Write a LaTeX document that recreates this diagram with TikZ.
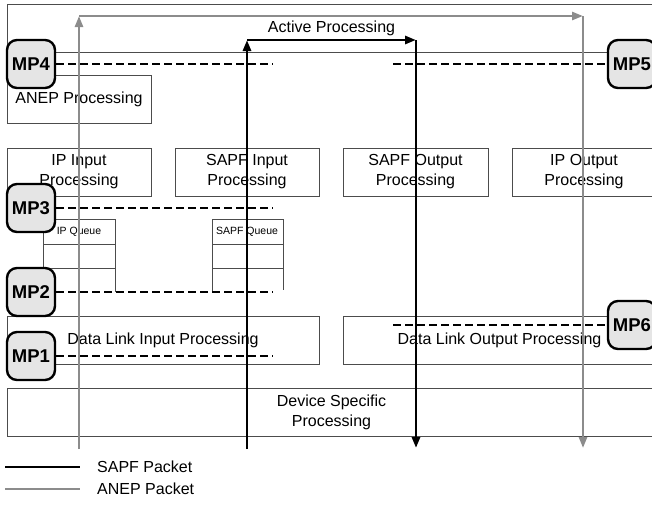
\documentclass[tikz,border=0pt]{standalone}
\usepackage{fontspec}
\setmainfont{Liberation Sans}
\usetikzlibrary{arrows.meta}

\begin{document}
\begin{tikzpicture}[x=1pt,y=-1pt,
    layer/.style={draw=black!70,line width=1pt,minimum height=48pt,inner sep=0pt,
        align=center,font=\fontsize{16}{20}\selectfont},
    queue/.style={draw=black!70,line width=1pt},
    qlabel/.style={inner sep=0pt,font=\fontsize{10.5}{12}\selectfont},
    mp/.style={draw=black,line width=2.4pt,rounded corners=10pt,fill=black!10,
        minimum width=48pt,minimum height=48pt,inner sep=0pt,
        font=\fontsize{18.5}{20}\selectfont\bfseries},
    probe/.style={line width=2.6pt,dash pattern=on 8pt off 4pt},
    sapf/.style={line width=2.8pt,black,-{Triangle[length=11pt,width=8pt]}},
    anep/.style={line width=2.5pt,black!45,-{Triangle[length=11pt,width=8pt]}},
    keyline/.style={line width=2.8pt},
]
\useasboundingbox (0,0) rectangle (652,504);
\clip (0,0) rectangle (652,504);

% layers
\node[layer,minimum width=649pt] (active) at (331.5,28) {Active Processing};
\node[layer,minimum width=144pt] (anepproc) at (79,99.5) {ANEP Processing};

\node[layer,minimum width=144pt] (ipin) at (79,172) {IP Input\\Processing};
\node[layer,minimum width=144pt] (sapfin) at (247,172) {SAPF Input\\Processing};
\node[layer,minimum width=145pt] (sapfout) at (415.5,172) {SAPF Output\\Processing};
\node[layer,minimum width=144pt] (ipout) at (584,172) {IP Output\\Processing};

\node[layer,minimum width=312pt] (dlin) at (163,340) {Data Link Input Processing};
\node[layer,minimum width=313pt] (dlout) at (499.5,340) {Data Link Output Processing};

\node[layer,minimum width=649pt] (device) at (331.5,412) {Device Specific\\Processing};

% queues
\draw[queue] (43,292) -- (43,219) -- (115,219) -- (115,292);
\draw[queue] (43,244) -- (115,244) (43,268) -- (115,268);
\node[qlabel] (ipq) at (79,232) {IP Queue};

\draw[queue] (212,292) -- (212,219) -- (283,219) -- (283,290);
\draw[queue] (212,244) -- (283,244) (212,268) -- (283,268);
\node[qlabel] (sapfq) at (247,232) {SAPF Queue};

% packet paths
\coordinate (anepa) at (79,449);
\coordinate (anepb) at (79,16);
\coordinate (anepc) at (583,16);
\coordinate (anepd) at (583,448);
\draw[anep] (anepa) -- (anepb);
\draw[anep] (anepb) -- (anepc);
\draw[anep] (anepc) -- (anepd);

\coordinate (sapfa) at (247,449);
\coordinate (sapfb) at (247,40);
\coordinate (sapfc) at (416,40);
\coordinate (sapfd) at (416,448);
\draw[sapf] (sapfa) -- (sapfb);
\draw[sapf] (sapfb) -- (sapfc);
\draw[sapf] (sapfc) -- (sapfd);

% measurement points
\node[mp] (mp4) at (31,64) {MP4};
\node[mp] (mp5) at (632,64) {MP5};
\node[mp] (mp3) at (31,208) {MP3};
\node[mp] (mp2) at (31,292) {MP2};
\node[mp] (mp1) at (31,356) {MP1};
\node[mp] (mp6) at (632,325) {MP6};

\coordinate (p4) at (273,64);
\coordinate (p5) at (393,64);
\coordinate (p3) at (273,208);
\coordinate (p2) at (273,292);
\coordinate (p1) at (273,356);
\coordinate (p6) at (393,325);
\draw[probe] (mp4.east) -- (p4);
\draw[probe] (p5) -- (mp5.west);
\draw[probe] (mp3.east) -- (p3);
\draw[probe] (mp2.east) -- (p2);
\draw[probe] (mp1.east) -- (p1);
\draw[probe] (p6) -- (mp6.west);

% legend
\coordinate (keya) at (5,467);
\coordinate (keyb) at (80,467);
\coordinate (keyc) at (5,489);
\coordinate (keyd) at (80,489);
\draw[keyline,black] (keya) -- (keyb);
\draw[keyline,black!45] (keyc) -- (keyd);
\node[anchor=west,inner sep=0pt,font=\fontsize{16}{20}\selectfont] (sapfkey) at (97,467) {SAPF Packet};
\node[anchor=west,inner sep=0pt,font=\fontsize{16}{20}\selectfont] (anepkey) at (97,489) {ANEP Packet};
\end{tikzpicture}
\end{document}
